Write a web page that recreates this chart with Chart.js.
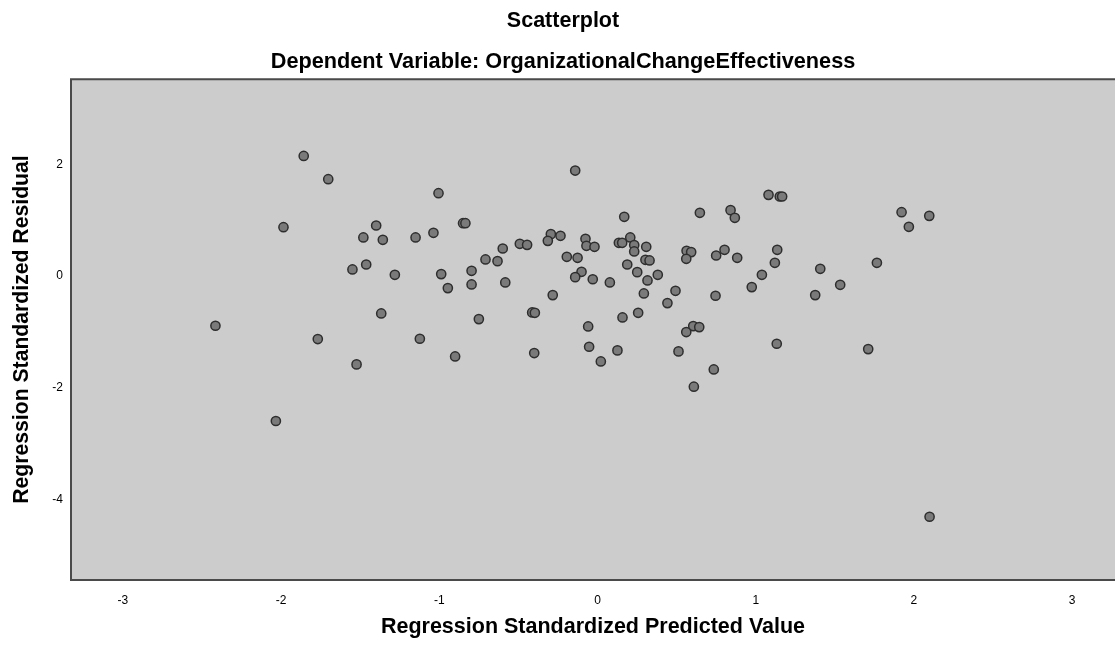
<!DOCTYPE html>
<html>
<head>
<meta charset="utf-8">
<script src="https://cdn.jsdelivr.net/npm/chart.js@4/dist/chart.umd.min.js"></script>
<style>
  html, body { margin: 0; padding: 0; background: #ffffff; overflow: hidden; }
  #wrap { width: 1115px; height: 652px; position: relative; }
</style>
</head>
<body>
<div id="wrap"><canvas id="c"></canvas></div>
<script>
// Regression standardized predicted values (x) and residuals (y)
const predictedValues = [
  -1.857, -1.702, -1.985, -1.480, -1.549, -2.415, -1.768, -1.523, -2.033,
  -0.141, -1.005, -1.399, -0.850, -0.835, -1.357, -1.150, -1.037,
  -0.295, -0.234, -0.314, -0.491, -0.445, -0.599, -0.076, -0.070, -0.019,
  -0.194, -0.126, -0.101, -0.141, -0.030, -0.708, -0.632, -0.796, -0.988,
  -1.281, -1.462, -0.583, -0.946, -0.796, 0.078, -0.283, -1.367, -0.750,
  -0.413, -0.396, -0.059, -0.053, -1.123, -0.900, -0.400, 0.021,
  1.081, 1.152, 1.167, 0.647, 0.841, 0.868, 0.169, 0.207, 0.135, 0.156,
  0.232, 0.308, 0.232, 0.303, 0.329, 0.188, 0.251, 0.381, 0.563, 0.592,
  0.561, 0.750, 0.803, 0.883, 1.136, 1.121, 1.039, 1.408, 0.316, 0.293,
  0.493, 0.442, 0.746, 0.975, 1.376, 1.534, 0.158, 0.257, 0.605, 0.643,
  0.561, 0.126, 0.512, 1.133, 0.735, 0.609, 1.922, 2.097, 1.968, 1.766,
  1.711, 2.099
];
const standardizedResiduals = [
  2.148, 1.732, 0.875, 0.691, 0.120, -0.887, -1.125, -1.577, -2.589,
  1.887, 1.482, 0.905, 0.946, 0.946, 0.649, 0.691, 0.774,
  0.750, 0.720, 0.630, 0.577, 0.559, 0.494, 0.667, 0.542, 0.524,
  0.345, 0.327, 0.077, -0.018, -0.056, 0.298, 0.268, 0.095, 0.036,
  0.024, 0.208, -0.113, -0.214, -0.149, -0.113, -0.339, -0.667, -0.768,
  -0.649, -0.655, -0.899, -1.262, -1.119, -1.435, -1.375, -1.524,
  1.452, 1.423, 1.423, 1.131, 1.179, 1.042, 1.060, 0.691, 0.595, 0.595,
  0.554, 0.524, 0.441, 0.291, 0.280, 0.208, 0.071, 0.024, 0.452, 0.429,
  0.309, 0.369, 0.470, 0.327, 0.470, 0.238, 0.024, 0.131, -0.077, -0.309,
  -0.262, -0.482, -0.351, -0.196, -0.339, -0.155, -0.738, -0.655, -0.893, -0.911,
  -1.000, -1.327, -1.345, -1.208, -1.667, -1.976, 1.143, 1.077, 0.881, 0.238,
  -1.304, -4.300
];
const xTickValues = [-3, -2, -1, 0, 1, 2, 3];
const yTickValues = [-4, -2, 0, 2];
const xRange = [-3.328, 3.271];
const yRange = [-5.43, 3.52];

const points = predictedValues.map((x, i) => ({ x: x, y: standardizedResiduals[i] }));

const FONT = '"Liberation Sans", Arial, sans-serif';

const plotFrame = {
  id: 'plotFrame',
  beforeDatasetsDraw(chart) {
    const a = chart.chartArea, ctx = chart.ctx;
    ctx.save();
    ctx.fillStyle = '#cccccc';
    ctx.fillRect(a.left, a.top, chart.width - a.left, a.bottom - a.top);
    ctx.restore();
  },
  afterDatasetsDraw(chart) {
    const a = chart.chartArea, ctx = chart.ctx;
    ctx.save();
    ctx.strokeStyle = '#4a4a4a';
    ctx.lineWidth = 2;
    ctx.beginPath();
    ctx.moveTo(chart.width + 2, a.top);
    ctx.lineTo(a.left, a.top);
    ctx.lineTo(a.left, a.bottom);
    ctx.lineTo(chart.width + 2, a.bottom);
    ctx.stroke();
    ctx.restore();
  }
};

new Chart(document.getElementById('c'), {
  type: 'scatter',
  data: {
    datasets: [{
      data: points,
      backgroundColor: '#7a7a7a',
      borderColor: '#2e2e2e',
      borderWidth: 1.5,
      pointRadius: 4.6,
      pointHoverRadius: 4.6
    }]
  },
  options: {
    responsive: true,
    maintainAspectRatio: false,
    animation: false,
    devicePixelRatio: 1,
    layout: { autoPadding: false, padding: { left: 2, right: -9, top: 0, bottom: 0 } },
    plugins: {
      legend: { display: false },
      tooltip: { enabled: false },
      title: {
        display: true,
        text: 'Scatterplot',
        color: '#000000',
        font: { family: FONT, size: 21.5, weight: 'bold', lineHeight: 1.2 },
        padding: { top: 8.6, bottom: 14.7 }
      },
      subtitle: {
        display: true,
        text: 'Dependent Variable: OrganizationalChangeEffectiveness',
        color: '#000000',
        font: { family: FONT, size: 21.7, weight: 'bold', lineHeight: 1.2 },
        padding: { top: 0, bottom: 4.0 }
      }
    },
    scales: {
      x: {
        type: 'linear',
        min: xRange[0],
        max: xRange[1],
        afterBuildTicks(scale) { scale.ticks = xTickValues.map(v => ({ value: v })); },
        afterFit(scale) { scale.height = 72; },
        grid: { display: false, drawTicks: false },
        border: { display: false },
        ticks: {
          color: '#000000',
          font: { family: FONT, size: 12 },
          padding: 13,
          maxRotation: 0,
          callback: v => String(v)
        },
        title: {
          display: true,
          text: 'Regression Standardized Predicted Value',
          color: '#000000',
          font: { family: FONT, size: 21.5, weight: 'bold', lineHeight: 1.2 },
          padding: { top: 0, bottom: 12.1 }
        }
      },
      y: {
        type: 'linear',
        min: yRange[0],
        max: yRange[1],
        afterBuildTicks(scale) { scale.ticks = yTickValues.map(v => ({ value: v })); },
        afterFit(scale) { scale.width = 69; },
        grid: { display: false, drawTicks: false },
        border: { display: false },
        ticks: {
          color: '#000000',
          font: { family: FONT, size: 12 },
          padding: 8,
          callback: v => String(v)
        },
        title: {
          display: true,
          text: 'Regression Standardized Residual',
          color: '#000000',
          font: { family: FONT, size: 21.2, weight: 'bold', lineHeight: 1.2 },
          padding: { top: 7, bottom: 0 }
        }
      }
    }
  },
  plugins: [plotFrame]
});
</script>
</body>
</html>
